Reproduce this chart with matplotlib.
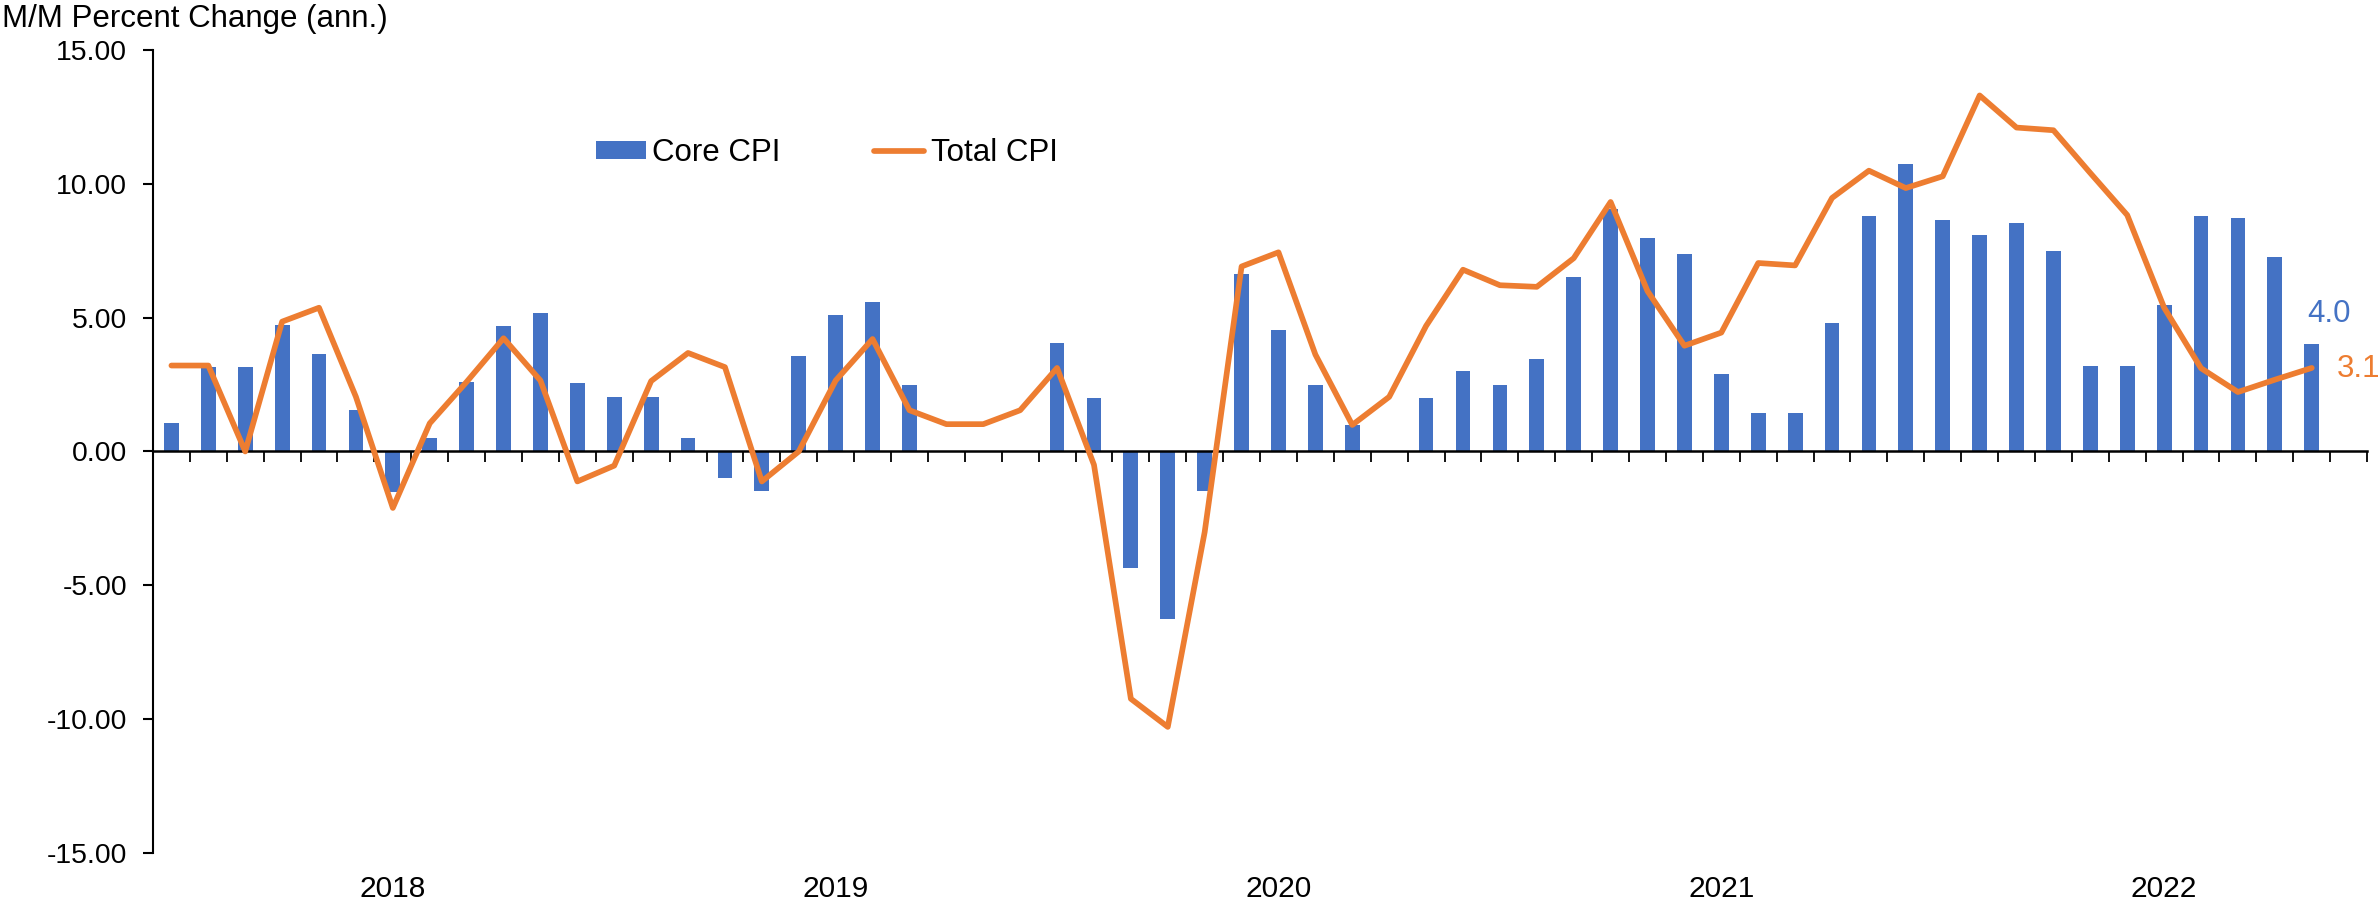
import numpy as np
import matplotlib
matplotlib.use("Agg")
from matplotlib import pyplot as plt

# monthly, Jan 2018 .. Dec 2022 (Dec 2022 not yet published)
years = ['2018', '2019', '2020', '2021', '2022']
core_cpi = [1.05, 3.15, 3.15, 4.73, 3.64, 1.54, -1.5, 0.52, 2.59, 4.67, 5.17, 2.56,
            2.04, 2.04, 0.52, -1.0, -1.49, 3.57, 5.1, 5.6, 2.49, 0.0, 0.0, 0.0,
            4.04, 1.98, -4.35, -6.26, -1.47, 6.64, 4.53, 2.49, 0.99, 0.0, 1.98, 2.99,
            2.47, 3.46, 6.5, 9.05, 7.96, 7.38, 2.88, 1.42, 1.42, 4.81, 8.79, 10.75,
            8.64, 8.09, 8.54, 7.49, 3.19, 3.19, 5.49, 8.81, 8.74, 7.27, 4.0, np.nan]
total_cpi = [3.21, 3.21, 0.0, 4.85, 5.37, 2.04, -2.11, 1.05, 2.6, 4.23, 2.65, -1.12,
             -0.53, 2.63, 3.68, 3.15, -1.12, 0.0, 2.65, 4.2, 1.54, 1.02, 1.02, 1.54,
             3.12, -0.5, -9.24, -10.29, -3.01, 6.91, 7.44, 3.62, 0.99, 2.04, 4.69, 6.79,
             6.21, 6.15, 7.22, 9.32, 5.99, 3.95, 4.44, 7.04, 6.95, 9.47, 10.49, 9.84,
             10.28, 13.3, 12.1, 12.0, 10.4, 8.83, 5.37, 3.11, 2.22, 2.68, 3.12, np.nan]

blue = '#4472C4'
orange = '#ED7D31'

plt.rcParams['font.family'] = ['Liberation Sans', 'DejaVu Sans']
plt.rcParams['axes.unicode_minus'] = False

fig = plt.figure(figsize=(23.79, 9.08), dpi=100)
ax = fig.add_axes([0.0643, 0.0606, 0.9307, 0.8844])

x = np.arange(len(core_cpi))
bars = ax.bar(x, core_cpi, width=0.40, color=blue, linewidth=0, label='Core CPI', zorder=2)
line, = ax.plot(x, total_cpi, color=orange, lw=4.1, label='Total CPI', zorder=3,
                solid_joinstyle='round', solid_capstyle='round')

ax.set_xlim(-0.5, len(core_cpi) - 0.5)
ax.set_ylim(-15, 15)
ax.set_yticks(np.arange(-15, 16, 5))
ax.set_yticklabels(['%.2f' % v for v in np.arange(-15, 16, 5)])
ax.tick_params(axis='y', length=7.5, width=1.5, pad=11, labelsize=20.4)

# category axis crosses at zero, ticks between months
ax.spines['bottom'].set_position(('data', 0))
ax.spines['top'].set_visible(False)
ax.spines['right'].set_visible(False)
ax.spines['left'].set_linewidth(1.5)
ax.spines['bottom'].set_linewidth(1.8)
ax.set_xticks(np.arange(0.5, len(core_cpi), 1))
ax.set_xticklabels([])
ax.tick_params(axis='x', length=8, width=1.3, direction='out')

for i, yr in enumerate(years):
    ax.text(6 + 12 * i, -0.0548, yr, transform=ax.get_xaxis_transform(),
            ha='center', va='baseline', fontsize=21.5)

fig.text(0.001, 0.970, 'M/M Percent Change (ann.)', ha='left', va='baseline', fontsize=22.5)

last = 58
ax.annotate('%.1f' % core_cpi[last], (last, core_cpi[last]), xytext=(-5, 22),
            textcoords='offset pixels', color=blue, fontsize=22.5, ha='left', va='baseline')
ax.annotate('%.1f' % total_cpi[last], (last, total_cpi[last]), xytext=(25, -9),
            textcoords='offset pixels', color=orange, fontsize=22.5, ha='left', va='baseline',
            annotation_clip=False)

ax.legend([bars, line], ['Core CPI', 'Total CPI'], loc='center left',
          bbox_to_anchor=(0.2505, 0.8315), bbox_transform=fig.transFigure,
          ncol=2, frameon=False, fontsize=22.5, handlelength=1.6, handleheight=0.5,
          handletextpad=0.2, columnspacing=3.0, borderpad=0, borderaxespad=0)

plt.savefig('out.png', dpi=100)
